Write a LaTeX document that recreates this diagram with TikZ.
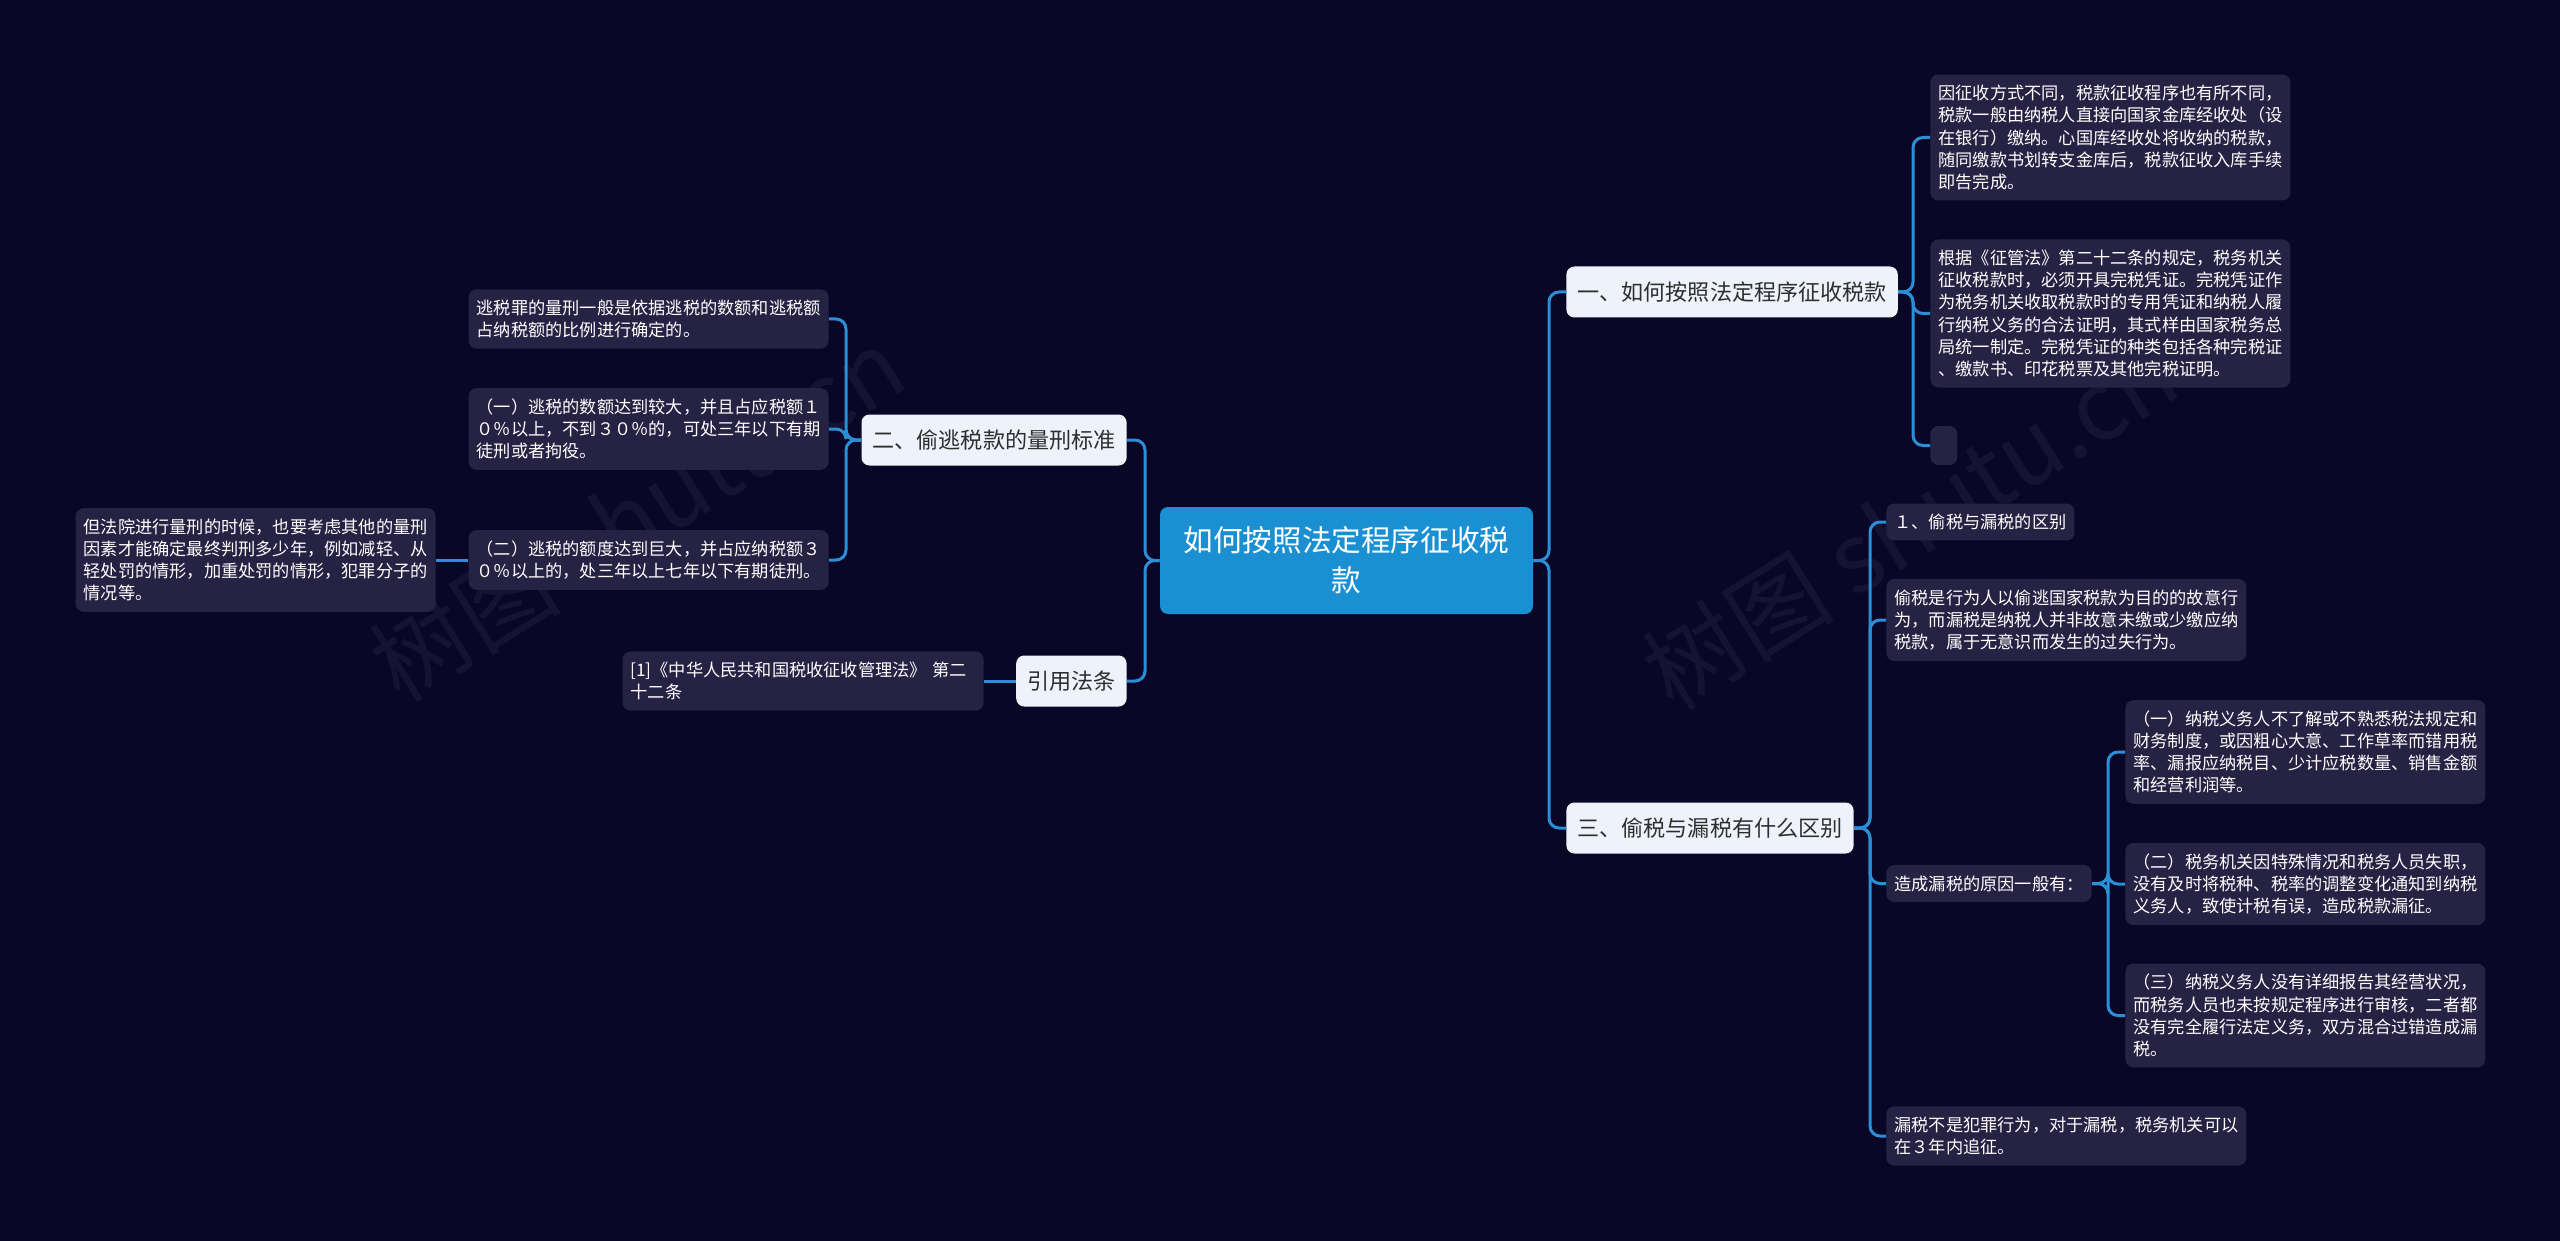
\documentclass[tikz,border=0pt]{standalone}
\usepackage{fontspec}
\newfontfamily\cjk{Noto Sans CJK SC}
\definecolor{bgnavy}{HTML}{0A0626}
\definecolor{leaffill}{HTML}{262243}
\definecolor{linkblue}{HTML}{2B8ED6}
\definecolor{rootblue}{HTML}{1A90D2}
\definecolor{topfill}{HTML}{EEF3FB}
\definecolor{toptext}{HTML}{2E2E2E}
\tikzset{
  link/.style={linkblue, line width=1.5pt, rounded corners=5pt},
  leaf/.style={fill=leaffill, rounded corners=4pt, text=white, align=left, inner xsep=4pt, inner ysep=5.25pt, font=\cjk\fontsize{8.6pt}{11.1pt}\selectfont},
  topic/.style={fill=topfill, rounded corners=4pt, text=toptext, minimum height=25.5pt, inner xsep=5.5pt, font=\cjk\fontsize{11.05pt}{13pt}\selectfont},
  rootbox/.style={fill=rootblue, rounded corners=4pt, text=white, align=center, minimum width=186.5pt, minimum height=53.5pt, font=\cjk\fontsize{14.8pt}{20pt}\selectfont},
  wmark/.style={text=white, opacity=0.05, font=\cjk\fontsize{48pt}{50pt}\selectfont}
}
\begin{document}
\begin{tikzpicture}[x=0.5pt,y=-0.5pt]
		\fill [bgnavy] (0,0) rectangle (2560,1241);
		\useasboundingbox (0,0) rectangle (2560,1241);
		
		\node [wmark, rotate=32] (wm1) at (637,514) {树图 shutu.cn};
		\node [wmark, rotate=32] (wm2) at (1910,522) {树图 shutu.cn};
		
		\node [rootbox] (root) at (1346.5,560.5) {如何按照法定程序征收税\\款};
		
		\node [topic, anchor=west] (t1) at (1566,292) {一、如何按照法定程序征收税款};
		\node [topic, anchor=east] (t2) at (1127,440) {二、偷逃税款的量刑标准};
		\node [topic, anchor=west] (t3) at (1566,828) {三、偷税与漏税有什么区别};
		\node [topic, anchor=east] (t4) at (1127,681) {引用法条};
		
		\node [leaf, anchor=west] (a1) at (1930,137.5) {因征收方式不同，税款征收程序也有所不同，\\税款一般由纳税人直接向国家金库经收处（设\\在银行）缴纳。心国库经收处将收纳的税款，\\随同缴款书划转支金库后，税款征收入库手续\\即告完成。};
		\node [leaf, anchor=west] (a2) at (1930,313.5) {根据《征管法》第二十二条的规定，税务机关\\征收税款时，必须开具完税凭证。完税凭证作\\为税务机关收取税款时的专用凭证和纳税人履\\行纳税义务的合法证明，其式样由国家税务总\\局统一制定。完税凭证的种类包括各种完税证\\、缴款书、印花税票及其他完税证明。};
		\node [leaf, anchor=west, minimum width=13.5pt, minimum height=19.5pt] (a3) at (1930,445.5) {};
		
		\node [leaf, anchor=west] (b1) at (1886,522) {１、偷税与漏税的区别};
		\node [leaf, anchor=west] (b2) at (1886,620) {偷税是行为人以偷逃国家税款为目的的故意行\\为，而漏税是纳税人并非故意未缴或少缴应纳\\税款，属于无意识而发生的过失行为。};
		\node [leaf, anchor=west] (b3) at (1886,883.5) {造成漏税的原因一般有：};
		\node [leaf, anchor=west] (b4) at (1886,1136) {漏税不是犯罪行为，对于漏税，税务机关可以\\在３年内追征。};
		
		\node [leaf, anchor=west] (c1) at (2125,752) {（一）纳税义务人不了解或不熟悉税法规定和\\财务制度，或因粗心大意、工作草率而错用税\\率、漏报应纳税目、少计应税数量、销售金额\\和经营利润等。};
		\node [leaf, anchor=west] (c2) at (2125,884) {（二）税务机关因特殊情况和税务人员失职，\\没有及时将税种、税率的调整变化通知到纳税\\义务人，致使计税有误，造成税款漏征。};
		\node [leaf, anchor=west] (c3) at (2125,1015.5) {（三）纳税义务人没有详细报告其经营状况，\\而税务人员也未按规定程序进行审核，二者都\\没有完全履行法定义务，双方混合过错造成漏\\税。};
		
		\node [leaf, anchor=east] (d1) at (829,319) {逃税罪的量刑一般是依据逃税的数额和逃税额\\占纳税额的比例进行确定的。};
		\node [leaf, anchor=east] (d2) at (829,429) {（一）逃税的数额达到较大，并且占应税额１\\０％以上，不到３０％的，可处三年以下有期\\徒刑或者拘役。};
		\node [leaf, anchor=east] (d3) at (829,560) {（二）逃税的额度达到巨大，并占应纳税额３\\０％以上的，处三年以上七年以下有期徒刑。};
		\node [leaf, anchor=east] (e1) at (436,560) {但法院进行量刑的时候，也要考虑其他的量刑\\因素才能确定最终判刑多少年，例如减轻、从\\轻处罚的情形，加重处罚的情形，犯罪分子的\\情况等。};
		\node [leaf, anchor=east, text width=172.5pt] (f1) at (984,681) {[1]《中华人民共和国税收征收管理法》 第二\\十二条};
		
		\coordinate (jr) at (1549,560.5);
		\coordinate (jl) at (1145,560.5);
		\coordinate (j1) at (1913,292);
		\coordinate (j2) at (846,440);
		\coordinate (j3) at (1870,828);
		\coordinate (jb) at (2108,883.5);
		
		\draw [link] (root.east) -- (jr) |- (t1.west);
		\draw [link] (root.east) -- (jr) |- (t3.west);
		\draw [link] (root.west) -- (jl) |- (t2.east);
		\draw [link] (root.west) -- (jl) |- (t4.east);
		
		\draw [link] (t1.east) -- (j1) |- (a1.west);
		\draw [link] (t1.east) -- (j1) |- (a2.west);
		\draw [link] (t1.east) -- (j1) |- (a3.west);
		
		\draw [link] (t3.east) -- (j3) |- (b1.west);
		\draw [link] (t3.east) -- (j3) |- (b2.west);
		\draw [link] (t3.east) -- (j3) |- (b3.west);
		\draw [link] (t3.east) -- (j3) |- (b4.west);
		
		\draw [link] (b3.east) -- (jb) |- (c1.west);
		\draw [link] (b3.east) -- (jb) |- (c2.west);
		\draw [link] (b3.east) -- (jb) |- (c3.west);
		
		\draw [link] (t2.west) -- (j2) |- (d1.east);
		\draw [link] (t2.west) -- (j2) |- (d2.east);
		\draw [link] (t2.west) -- (j2) |- (d3.east);
		\draw [link] (d3.west) -- (e1.east);
		\draw [link] (t4.west) -- (f1.east);
		
		\end{tikzpicture}
\end{document}
